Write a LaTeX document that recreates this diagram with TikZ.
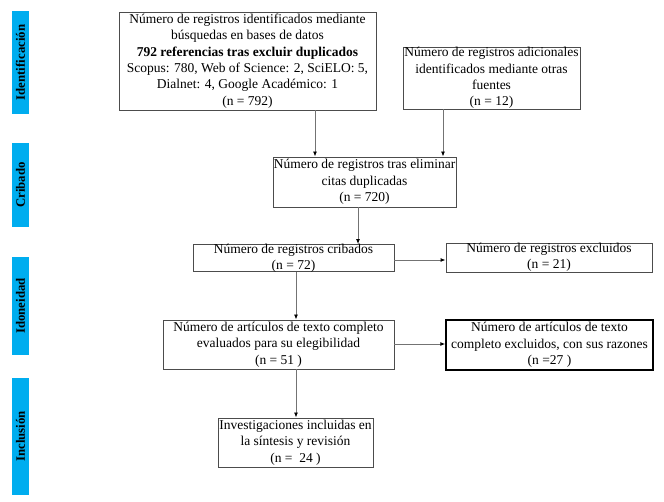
\documentclass[tikz,border=0pt]{standalone}
\usepackage{fontspec}
\setmainfont{Liberation Serif}
\usetikzlibrary{arrows.meta,calc}
\begin{document}
\begin{tikzpicture}[x=1pt,y=-1pt,
  box/.style={draw=black!70,line width=0.9pt,inner sep=0pt},
  txt/.style={align=center,inner sep=0pt,font=\fontsize{13.5}{16.4}\selectfont},
  barlabel/.style={rotate=90,font=\bfseries\fontsize{12.8}{14}\selectfont},
  arr/.style={draw=black!55,line width=0.9pt,-{Latex[black,length=5pt,width=4pt]}}]
\useasboundingbox[fill=white] (0,0) rectangle (664,502);
% side bars
\fill[cyan] (12,11) rectangle (29,114);
\node[barlabel] (l1) at (20.5,62.5) {Identificación};
\fill[cyan] (12,143) rectangle (29,227);
\node[barlabel] (l2) at (20.5,185) {Cribado};
\fill[cyan] (12,257) rectangle (29,355);
\node[barlabel] (l3) at (20.5,306) {Idoneidad};
\fill[cyan] (12,378) rectangle (29,495);
\node[barlabel] (l4) at (20.5,436.5) {Inclusión};
% boxes
\node[box,minimum width=257pt,minimum height=98pt] (b1) at (247.5,61) {};
\node[txt] (t1) at (b1.center)
 {Número de registros identificados mediante\\búsquedas en bases de datos\\\textbf{792 referencias tras excluir duplicados}\\Scopus: 780, Web of Science: 2, SciELO: 5,\\Dialnet: 4, Google Académico: 1\\(n = 792)};
\node[box,minimum width=177pt,minimum height=62pt] (b2) at (491.5,78) {};
\node[txt] (t2) at (b2.center)
 {Número de registros adicionales\\identificados mediante otras\\fuentes\\(n = 12)};
\node[box,minimum width=183pt,minimum height=50pt] (b3) at (364.5,182) {};
\node[txt] (t3) at (b3.center)
 {Número de registros tras eliminar\\citas duplicadas\\(n = 720)};
\node[box,minimum width=201pt,minimum height=27pt] (b4) at (293.5,258) {};
\node[txt] (t4) at (b4.center)
 {Número de registros cribados\\(n = 72)};
\node[box,minimum width=206pt,minimum height=29pt] (b5) at (549,257.5) {};
\node[txt] (t5) at (b5.center)
 {Número de registros excluidos\\(n = 21)};
\node[box,minimum width=231pt,minimum height=49pt] (b6) at (278.5,344.5) {};
\node[txt] (t6) at (b6.center)
 {Número de artículos de texto completo\\evaluados para su elegibilidad\\(n = 51 )};
\node[box,draw=black,line width=1.4pt,minimum width=207pt,minimum height=50pt] (b7) at (549.5,345) {};
\node[txt] (t7) at (b7.center)
 {Número de artículos de texto\\completo excluidos, con sus razones\\(n =27 )};
\node[box,minimum width=155pt,minimum height=49pt] (b8) at (295.5,442.5) {};
\node[txt] (t8) at (b8.center)
 {Investigaciones incluidas en\\la síntesis y revisión\\(n =\ \ 24 )};
% connectors
\draw[arr] (b1.south -| 315,0) -- (b3.north -| 315,0);
\draw[arr] (b2.south -| 443,0) -- (b3.north -| 443,0);
\draw[arr] (b3.south -| 358,0) -- (b4.north -| 358,0);
\draw[arr] (b4.east |- 0,260) -- (b5.west |- 0,260);
\draw[arr] (b4.south -| 296,0) -- (b6.north -| 296,0);
\draw[arr] (b6.east |- 0,344) -- (b7.west |- 0,344);
\draw[arr] (b6.south -| 296,0) -- (b8.north -| 296,0);
\end{tikzpicture}
\end{document}
